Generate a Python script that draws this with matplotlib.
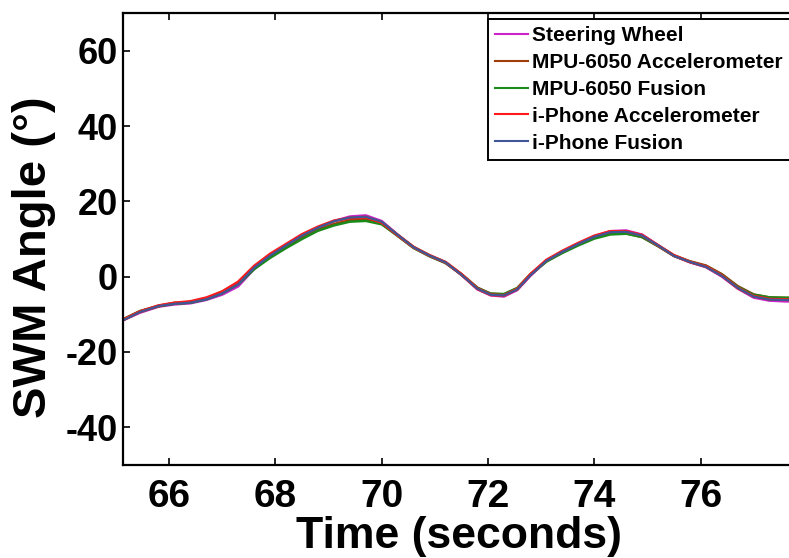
import numpy as np
import matplotlib
matplotlib.use('Agg')
from matplotlib import pyplot as plt

plt.rcParams['font.family'] = ['Liberation Sans', 'DejaVu Sans']
plt.rcParams['font.weight'] = 'bold'
plt.rcParams['axes.unicode_minus'] = False

# time axis (s) shared by all traces
t = [65.13, 65.45, 65.8, 66.1, 66.4, 66.7, 67.0, 67.3, 67.6, 67.9, 68.2, 68.5,
     68.8, 69.1, 69.4, 69.7, 70.0, 70.3, 70.6, 70.9, 71.2, 71.5, 71.8, 72.05,
     72.3, 72.55, 72.8, 73.1, 73.4, 73.7, 74.0, 74.3, 74.6, 74.9, 75.2, 75.5,
     75.8, 76.1, 76.4, 76.7, 77.0, 77.3, 77.6, 78.0]

steering = [-11.6, -9.6, -8.0, -7.4, -7.1, -6.2, -4.8, -2.6, 2.0, 5.4, 8.2, 10.9,
            13.0, 14.8, 16.0, 16.3, 14.8, 11.2, 7.8, 5.6, 3.8, 0.4, -3.4, -5.0,
            -5.3, -3.6, 0.2, 4.2, 6.7, 8.8, 10.8, 12.1, 12.3, 11.2, 8.4, 5.5,
            3.8, 2.5, 0.0, -3.2, -5.6, -6.4, -6.6, -6.6]
mpu_acc = [-11.4, -9.2, -7.8, -7.0, -6.8, -5.8, -4.0, -1.6, 2.6, 5.6, 8.0, 10.4,
           12.4, 13.9, 14.9, 15.2, 14.2, 11.0, 7.8, 5.6, 3.8, 0.6, -3.0, -4.6,
           -4.8, -3.2, 0.6, 4.2, 6.5, 8.6, 10.4, 11.5, 11.6, 10.6, 8.2, 5.6,
           4.0, 2.9, 0.6, -2.6, -4.8, -5.6, -5.7, -5.8]
mpu_fus = [-11.4, -9.2, -7.8, -7.2, -6.9, -6.0, -4.4, -2.0, 2.0, 5.0, 7.6, 10.0,
           12.2, 13.6, 14.6, 14.8, 13.9, 10.8, 7.6, 5.4, 3.6, 0.6, -3.0, -4.5,
           -4.6, -3.0, 0.6, 4.0, 6.3, 8.3, 10.1, 11.2, 11.4, 10.5, 8.1, 5.5,
           4.0, 2.8, 0.5, -2.7, -4.8, -5.5, -5.6, -5.6]
iph_acc = [-11.5, -9.3, -7.7, -7.0, -6.6, -5.6, -4.0, -1.4, 2.8, 6.0, 8.6, 11.2,
           13.2, 14.8, 15.6, 15.8, 14.4, 11.0, 7.8, 5.6, 3.8, 0.6, -3.2, -4.8,
           -5.0, -3.3, 0.6, 4.4, 6.8, 8.9, 10.8, 12.0, 12.0, 11.0, 8.3, 5.6,
           3.9, 2.7, 0.3, -3.0, -5.2, -6.0, -6.1, -6.2]
iph_fus = [-11.6, -9.4, -7.8, -7.2, -6.9, -6.0, -4.4, -2.0, 2.4, 5.6, 8.3, 10.9,
           13.0, 14.7, 15.7, 15.9, 14.6, 11.1, 7.8, 5.6, 3.8, 0.5, -3.2, -4.8,
           -5.0, -3.4, 0.4, 4.2, 6.6, 8.7, 10.6, 11.8, 11.9, 10.9, 8.3, 5.5,
           3.9, 2.6, 0.2, -3.0, -5.3, -6.1, -6.2, -6.3]

labels = ['Steering Wheel', 'MPU-6050 Accelerometer', 'MPU-6050 Fusion',
          'i-Phone Accelerometer', 'i-Phone Fusion']
colors = ['#CC22CC', '#9E3C0A', '#1A8A1A', '#FF1A1A', '#3F5796']
widths = [1.6, 2.2, 1.8, 2.2, 1.6]

fig = plt.figure(figsize=(7.89, 5.58), dpi=100)
ax = fig.add_axes([123 / 789, 93 / 558, 687 / 789, 452 / 558])

series = [steering, mpu_acc, mpu_fus, iph_acc, iph_fus]
for y, lab, c, w in zip(series, labels, colors, widths):
    ax.plot(t, y, color=c, lw=w, label=lab)

ax.set_xlim(65.13, 78.06)
ax.set_ylim(-50, 70)
ax.set_xticks([66, 68, 70, 72, 74, 76])
ax.set_yticks([-40, -20, 0, 20, 40, 60])
ax.tick_params(direction='in', length=5, width=1.2, top=True, right=True)
for lbl in ax.get_xticklabels():
    lbl.set_fontsize(28)
    lbl.set_fontweight('bold')
for lbl in ax.get_yticklabels():
    lbl.set_fontsize(26)
    lbl.set_fontweight('bold')
ax.tick_params(axis='x', pad=10)
ax.tick_params(axis='y', pad=3.5)
for s in ax.spines.values():
    s.set_linewidth(1.6)

ax.set_xlabel('Time (seconds)', fontsize=32, fontweight='bold')
ax.xaxis.set_label_coords(0.489, -0.113)
ax.set_ylabel('SWM Angle (°)', fontsize=34, fontweight='bold')
ax.yaxis.set_label_coords(-0.097, 0.459)

leg = ax.legend(loc='upper left', bbox_to_anchor=(488 / 789, 1 - 19 / 558),
                bbox_transform=fig.transFigure, fancybox=False, framealpha=1,
                edgecolor='black', prop={'size': 15, 'weight': 'bold'},
                handlelength=1.55, handletextpad=0.2, labelspacing=0.375,
                borderpad=0.35, borderaxespad=0)
leg.get_frame().set_linewidth(1.4)
for h in leg.get_lines():
    h.set_linewidth(1.5)

plt.savefig('out.png', dpi=100)
